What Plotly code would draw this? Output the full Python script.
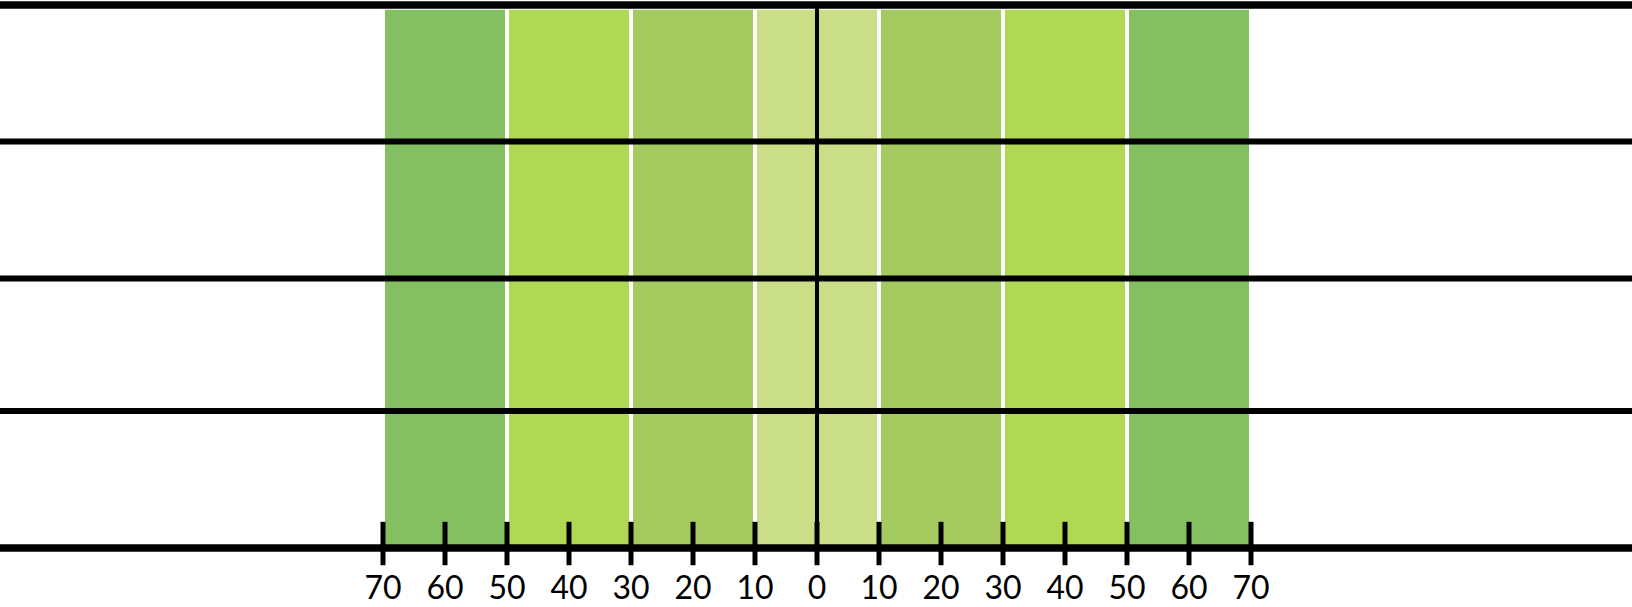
import plotly.graph_objects as go

# --- data ---
band_starts = [-70, -50, -30, -10, 0, 10, 30, 50]
band_ends = [-50, -30, -10, 0, 10, 30, 50, 70]
band_colors = ["#84bf62", "#b0d852", "#a5ca60", "#cade88",
               "#cade88", "#a5ca60", "#b0d852", "#84bf62"]
band_height = 3.98
row_lines = [0, 1.01, 1.985, 2.995, 4]
row_line_widths = [7.5, 6, 6, 6, 7.5]
tick_values = [-70, -60, -50, -40, -30, -20, -10, 0, 10, 20, 30, 40, 50, 60, 70]
tick_labels = [str(abs(v)) for v in tick_values]

fig = go.Figure()

centers = [(a + b) / 2 for a, b in zip(band_starts, band_ends)]
widths = [b - a for a, b in zip(band_starts, band_ends)]
fig.add_trace(go.Bar(
    x=centers, y=[band_height] * len(centers), width=widths,
    marker=dict(color=band_colors, line=dict(color="white", width=4)),
    hoverinfo="skip", showlegend=False,
))

for yv, lw in zip(row_lines, row_line_widths):
    fig.add_trace(go.Scatter(
        x=[-140, 140], y=[yv, yv], mode="lines",
        line=dict(color="black", width=lw),
        hoverinfo="skip", showlegend=False, cliponaxis=False,
    ))

# centre vertical line
fig.add_trace(go.Scatter(
    x=[0, 0], y=[row_lines[0], row_lines[-1]], mode="lines",
    line=dict(color="black", width=4),
    hoverinfo="skip", showlegend=False,
))

# crossing tick marks
fig.add_trace(go.Scatter(
    x=tick_values, y=[0.033] * len(tick_values), mode="markers",
    marker=dict(symbol="line-ns", size=31, line=dict(color="black", width=5)),
    hoverinfo="skip", showlegend=False, cliponaxis=False,
))

# tick labels
fig.add_trace(go.Scatter(
    x=tick_values, y=[-0.315] * len(tick_values), mode="text",
    text=tick_labels, textposition="middle center",
    textfont=dict(family="Lato", size=32, color="black"),
    hoverinfo="skip", showlegend=False, cliponaxis=False,
))

px_per_unit = 6.2
x0_px = 817
fig.update_layout(
    width=1632, height=607,
    margin=dict(l=0, r=0, t=0, b=0),
    paper_bgcolor="white", plot_bgcolor="white",
    barmode="overlay",
    xaxis=dict(range=[-x0_px / px_per_unit, (1632 - x0_px) / px_per_unit],
               visible=False, fixedrange=True),
    yaxis=dict(range=[(548 - 607) / 135.75, 548 / 135.75],
               visible=False, fixedrange=True),
)

fig.write_html("out.html")
